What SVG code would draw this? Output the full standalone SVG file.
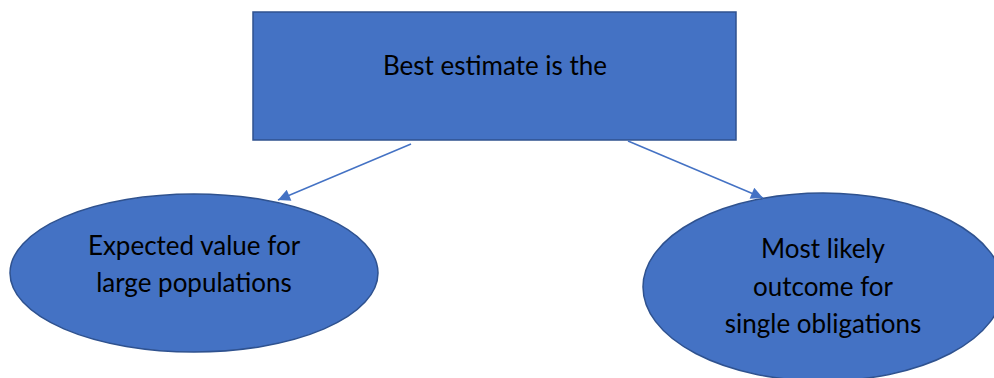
<svg xmlns="http://www.w3.org/2000/svg" width="994" height="378" viewBox="0 0 994 378">
<style>
.shape{fill:#4472C4;stroke:#2F528F;stroke-width:1.5}
.lbl{font-family:Lato,"Open Sans","Liberation Sans",sans-serif;font-size:26px;fill:#000;text-anchor:middle}
.conn{stroke:#4472C4;stroke-width:1.5;fill:none}
</style>
<defs>
<marker id="arr" viewBox="0 0 10 10" refX="10" refY="5" markerWidth="10" markerHeight="8" orient="auto" markerUnits="strokeWidth">
<path d="M0,0 L10,5 L0,10 z" fill="#4472C4"/>
</marker>
</defs>
<rect width="994" height="378" fill="#fff"/>
<g id="top">
<rect class="shape" x="253" y="12" width="483" height="128"/>
<text class="lbl" x="495" y="75">Best estimate is the</text>
</g>
<g id="left">
<ellipse class="shape" cx="194" cy="273" rx="184" ry="79"/>
<text class="lbl" x="194" y="255">Expected value for</text>
<text class="lbl" x="194" y="292">large populations</text>
</g>
<g id="right">
<ellipse class="shape" cx="823" cy="287" rx="180" ry="94"/>
<text class="lbl" x="823" y="258">Most likely</text>
<text class="lbl" x="823" y="296">outcome for</text>
<text class="lbl" x="823" y="333">single obligations</text>
</g>
<g id="connectors">
<line class="conn" x1="411" y1="144" x2="278" y2="200" marker-end="url(#arr)"/>
<line class="conn" x1="628" y1="141" x2="763" y2="198" marker-end="url(#arr)"/>
</g>
</svg>
